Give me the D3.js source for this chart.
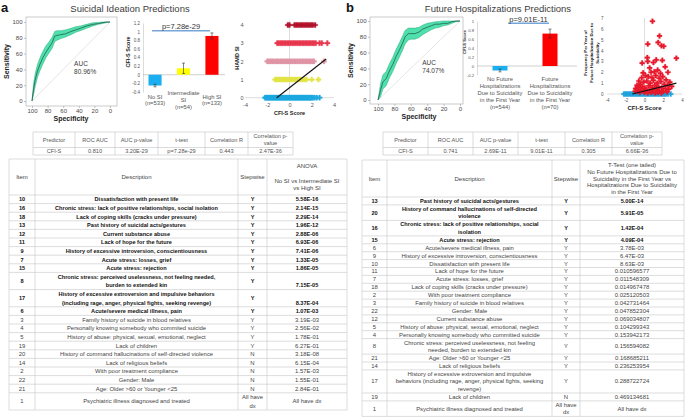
<!DOCTYPE html>
<html>
<head>
<meta charset="utf-8">
<title>CFI-S predictions</title>
<script src="https://cdn.jsdelivr.net/npm/d3@7"></script>
<style>
    body { margin: 0; background: #fff; }
    svg { display: block; }
</style>
</head>
<body>
<svg id="chart" width="685" height="420"></svg>
<script>
const TITLE_A = "Suicidal Ideation Predictions";
const TITLE_B = "Future Hospitalizations Predictions";

// ROC curves (specificity on x, sensitivity on y, with confidence band)
const ROC_TICKS = [100, 80, 60, 40, 20, 0];
const AUC_LABEL_AT = [46, 47];
const AUC_A = ["AUC", "80.96%"];
const AUC_B = ["AUC", "74.07%"];

const ROC_A_SPEC = [100, 98, 96, 93, 90, 86, 82, 78, 74, 71, 68, 63, 57, 50, 44, 38, 30, 22, 15, 10, 5, 0];
const ROC_A_SENS = [0, 15, 26, 38, 46, 55, 62, 68, 74, 82, 83, 84, 85, 88, 90, 92, 95, 97, 98, 99, 100, 100];
const ROC_A_LOW = [0, 8, 18, 30, 38, 47, 55, 61, 67, 75, 77, 79, 81, 84, 87, 89, 92, 95, 97, 98, 99, 100];
const ROC_A_HIGH = [0, 22, 34, 46, 54, 63, 70, 75, 81, 88, 89, 89, 90, 92, 94, 95, 97, 99, 99.5, 100, 100, 100];

const ROC_B_SPEC = [100, 97, 94, 90, 86, 82, 78, 74, 70, 67, 63, 60, 55, 50, 45, 40, 35, 30, 25, 20, 15, 10, 5, 0];
const ROC_B_SENS = [0, 12, 23, 27, 37, 45, 55, 63, 72, 80, 84, 84, 84, 86, 90, 92, 94, 96, 96, 97, 97, 99, 100, 100];
const ROC_B_LOW = [0, 4, 14, 18, 28, 36, 46, 54, 63, 71, 76, 77, 77, 79, 83, 86, 89, 91, 92, 94, 95, 97, 99, 100];
const ROC_B_HIGH = [0, 20, 32, 36, 46, 54, 64, 72, 81, 88, 91, 91, 91, 92, 95, 97, 98, 99, 99.5, 100, 100, 100, 100, 100];

// bar charts of mean CFI-S score
const SI_GROUPS = ["No SI\n(n=533)", "Intermediate\nSI\n(n=54)", "High SI\n(n=133)"];
const SI_MEANS = [-0.25, 0.15, 0.9];
const SI_ERRORS = [0.03, 0.12, 0.07];
const SI_TICKS = [-0.4, -0.2, 0, 0.2, 0.4, 0.6, 0.8, 1, 1.2];
const SI_P_TEXT = "p=7.28e-29";
const SI_P_LEVEL = 1.02;

const HOSP_GROUPS = [
    "No Future\nHospitalizations\nDue to Suicidality\nin the First Year\n(n=544)",
    "Future\nHospitalizations\nDue to Suicidality\nin the First Year\n(n=70)"
];
const HOSP_MEANS = [-0.1, 0.72];
const HOSP_ERRORS = [0.03, 0.1];
const HOSP_TICKS = [-0.2, 0, 0.2, 0.4, 0.6, 0.8, 1];
const HOSP_P_TEXT = "p=9.01E-11";
const HOSP_P_LEVEL = 0.95;

// scatter plots
const SCATTER_X_TICKS = [-4, -2, 0, 2, 4];
const HAMD_TICKS = [0, 1, 2, 3, 4];
const HAMD_0_CFIS = [-2.2, -2.1, -2.02, -1.93, -1.85, -1.76, -1.68, -1.6, -1.51, -1.43, -1.35, -1.26, -1.18, -1.1, -1.01, -0.93, -0.85, -0.76, -0.68, -0.6, -0.51, -0.43, -0.35, -0.26, -0.18, -0.1, -0.01, 0.07, 0.15, 0.24, 0.32, 0.4, 0.49, 0.57, 0.65, 0.74, 0.82, 0.9, 0.99, 1.07, 1.15, 1.24, 1.32, 1.4, 1.49, 1.57, 1.65, 1.74, 1.82, 1.9, 1.99, 2.1, 2.25, 2.45, 2.7];
const HAMD_1_CFIS = [-1.3, -1.15, -1.02, -0.9, -0.76, -0.62, -0.5, -0.36, -0.22, -0.06, 0.1, 0.24, 0.4, 0.55, 0.7, 0.86, 1.0, 1.18, 1.35, 1.52, 2.0, 2.6];
const HAMD_2_CFIS = [-2.0, -1.86, -1.7, -1.56, -1.42, -1.25, -1.1, -0.96, -0.8, -0.66, -0.5, -0.36, -0.2, -0.06, 0.1, 0.25, 0.4, 0.55, 0.7, 0.86, 1.0, 1.16, 1.3, 1.46, 1.6, 1.76, 1.9, 2.06, 2.2, 3.1];
const HAMD_3_CFIS = [-1.1, -0.96, -0.8, -0.66, -0.5, -0.36, -0.2, -0.06, 0.1, 0.25, 0.4, 0.55, 0.7, 0.86, 1.0, 1.16, 1.3, 1.46, 1.6, 1.76, 1.9, 2.06, 2.2, 2.36, 2.7, 2.9, 3.4];
const HAMD_4_CFIS = [-0.15, 0.0, 0.45, 0.6, 0.75, 0.9, 1.05, 1.2, 1.35, 1.5, 1.65, 1.8, 1.95, 2.1, 2.3];
const HAMD_REG_X = [-1.15, 3.3];
const HAMD_REG_Y = [0, 2.13];

const FREQ_TICKS = [0, 1, 2, 3, 4, 5, 6, 7];
const NO_HOSP_CFIS = [-2.2, -2.05, -1.9, -1.75, -1.6, -1.45, -1.3, -1.15, -1.0, -0.85, -0.7, -0.55, -0.4, -0.25, -0.1, 0.05, 0.2, 0.35, 0.5, 0.65, 0.8, 0.95, 1.1, 1.25, 1.4, 1.55, 1.7, 1.85, 2.0, 2.15, 2.3, 2.5, 2.8];
const HOSP_CFIS = [0.85, 1.6, 0.35, 1.45, 1.8, 2.05, 3.4, 0.3, 0.35, -0.25, 0.95, 1.25, 1.9, 2.2, 0.55, 1.4, -0.15, 0.7, 1.05, 1.7, 2.5,
    -0.6, -0.3, 0.1, 0.4, 0.8, 1.2, 1.55, 1.95, 2.3, 2.7, -0.8, -0.45, -0.1, 0.25, 0.6, 0.95, 1.35, 1.75, 2.1, 2.5, 2.9,
    -0.95, -0.6, -0.25, 0.05, 0.45, 0.8, 1.1, 1.5, 1.85, 2.25, 2.6, -1.0, -0.7, -0.4, -0.1, 0.2, 0.55, 0.9, 1.25, 1.6, 2.0, 2.4,
    -0.5, 0.0, 0.35, 0.75, 1.15, 1.45, 1.8];
const HOSP_FREQ = [6.7, 5.35, 4.6, 4.75, 4.45, 4.4, 3.3, 3.35, 3.0, 2.85, 2.9, 3.15, 3.1, 2.5, 2.4, 2.2, 1.95, 2.0, 2.05, 1.9, 2.0,
    1.2, 1.5, 1.7, 1.6, 1.5, 1.7, 1.45, 1.6, 1.3, 1.1, 0.8, 0.9, 1.1, 1.2, 1.0, 1.25, 1.0, 1.15, 0.9, 0.8, 0.7,
    0.5, 0.6, 0.7, 0.55, 0.75, 0.6, 0.8, 0.65, 0.55, 0.5, 0.45, 0.25, 0.3, 0.35, 0.3, 0.4, 0.3, 0.35, 0.45, 0.3, 0.25, 0.2,
    0.15, 0.15, 0.1, 0.15, 0.1, 0.15, 0.1];
const HOSP_REG_X = [-1.3, 3.4];
const HOSP_REG_Y = [0, 1.0];

// tables
const SUMMARY_HEADERS = ["Predictor", "ROC AUC", "AUC p-value", "t-test", "Correlation R", "Correlation p-\nvalue"];
const SUMMARY_A = ["CFI-S", "0.810", "3.20E-29", "p=7.28e-29", "0.443", "2.47E-36"];
const SUMMARY_B = ["CFI-S", "0.741", "2.69E-11", "9.01E-11", "0.305", "6.66E-36"];

const TABLE_A_HEADERS = ["Item", "Description", "Stepwise", "ANOVA\n\nNo SI vs Intermediate SI\nvs High SI"];
const TABLE_A_ITEMS = ["10", "16", "18", "13", "12", "11", "9", "7", "15", "8", "17", "6", "3", "4", "5", "19", "20", "14", "2", "22", "21", "1"];
const TABLE_A_DESCRIPTIONS = [
    "Dissatisfaction with  present life",
    "Chronic stress: lack of positive relationships, social isolation",
    "Lack of coping skills (cracks under pressure)",
    "Past history of suicidal acts/gestures",
    "Current substance abuse",
    "Lack of hope for the future",
    "History of excessive introversion, conscientiousness",
    "Acute stress: losses, grief",
    "Acute stress: rejection",
    "Chronic stress: perceived uselessness, not feeling needed,\nburden to extended kin",
    "History of excessive extroversion and impulsive behaviors\n(including rage, anger, physical fights, seeking revenge)",
    "Acute/severe medical illness, pain",
    "Family history of suicide in blood relatives",
    "Personally knowing somebody who commited suicide",
    "History of abuse: physical, sexual, emotional, neglect",
    "Lack of children",
    "History of command hallucinations of self-directed violence",
    "Lack of religious beliefs",
    "With poor treatment compliance",
    "Gender: Male",
    "Age: Older >60 or Younger <25",
    "Psychiatric illness diagnosed and treated"
];
const TABLE_A_STEPWISE = ["Y", "Y", "Y", "Y", "Y", "Y", "Y", "Y", "Y", "Y", "Y", "Y", "Y", "Y", "Y", "Y", "N", "N", "N", "N", "N", "All have\ndx"];
const TABLE_A_ANOVA = ["5.58E-16", "2.14E-15", "2.29E-14", "1.96E-12", "2.88E-06", "6.93E-06", "7.41E-06", "1.33E-05", "1.86E-05", "7.15E-05", "8.37E-04", "1.07E-03", "3.19E-03", "2.56E-02", "1.78E-01", "6.27E-01", "3.18E-08", "6.15E-04", "1.57E-03", "1.55E-01", "2.84E-01", "All have dx"];
const TABLE_A_BOLD = 12;

const TABLE_B_HEADERS = ["Item", "Description", "Stepwise", "T-Test (one tailed)\nNo Future Hospitalizations Due to\nSuicidality in the First Year vs\nHospitalizations Due to Suicidality\nin the First Year"];
const TABLE_B_ITEMS = ["13", "20", "16", "15", "6", "9", "10", "11", "7", "18", "2", "3", "22", "12", "5", "4", "8", "21", "14", "17", "19", "1"];
const TABLE_B_DESCRIPTIONS = [
    "Past history of suicidal acts/gestures",
    "History of command hallucinations of self-directed\nviolence",
    "Chronic stress: lack of positive relationships, social\nisolation",
    "Acute stress: rejection",
    "Acute/severe medical illness, pain",
    "History of excessive introversion, conscientiousness",
    "Dissatisfaction with  present life",
    "Lack of hope for the future",
    "Acute stress: losses, grief",
    "Lack of coping skills (cracks under pressure)",
    "With poor treatment compliance",
    "Family history of suicide in blood relatives",
    "Gender: Male",
    "Current substance abuse",
    "History of abuse: physical, sexual, emotional, neglect",
    "Personally knowing somebody who committed suicide",
    "Chronic stress: perceived uselessness, not feeling\nneeded, burden to extended kin",
    "Age: Older >60 or Younger <25",
    "Lack of religious beliefs",
    "History of excessive extroversion and impulsive\nbehaviors (including rage, anger, physical fights, seeking\nrevenge)",
    "Lack of children",
    "Psychiatric illness diagnosed and treated"
];
const TABLE_B_STEPWISE = ["Y", "Y", "Y", "Y", "Y", "Y", "Y", "Y", "Y", "Y", "Y", "Y", "Y", "Y", "Y", "Y", "Y", "Y", "Y", "Y", "N", "All have\ndx"];
const TABLE_B_TTEST = ["5.00E-14", "5.91E-05", "1.42E-04", "4.09E-04", "3.78E-03", "6.47E-03", "8.63E-03", "0.010596577", "0.011548309", "0.014967478", "0.025120503", "0.042731464", "0.047852304", "0.069034807", "0.104299343", "0.153942173", "0.156594082", "0.168685211", "0.236253954", "0.288722724", "0.469134681", "All have dx"];
const TABLE_B_BOLD = 4;

const FONT = "'Liberation Sans', Arial, Helvetica, sans-serif";
const svg = d3.select("#chart").attr("font-family", FONT);

const addText = (parent, x, y, str, size, opts = {}) => {
    return parent.append("text")
        .attr("x", x)
        .attr("y", y)
        .attr("font-size", size)
        .attr("fill", opts.fill || "#333")
        .attr("font-weight", opts.bold ? "bold" : null)
        .attr("text-anchor", opts.anchor || "middle")
        .attr("dominant-baseline", "central")
        .attr("transform", opts.rotate ? `rotate(-90, ${x}, ${y})` : null)
        .text(str);
};

const addLines = (parent, x, yCenter, lines, size, step, opts = {}) => {
    const first = yCenter - (lines.length - 1) * step / 2;
    lines.forEach((line, i) => addText(parent, x, first + i * step, line, size, opts));
};

const styleAxis = (axisG, size, fill, keepDomain = false) => {
    axisG.attr("font-family", FONT).attr("font-size", size);
    if (!keepDomain)
        axisG.select(".domain").remove();
    axisG.selectAll(".tick line").attr("stroke", "#8a8a8a").attr("stroke-width", 0.5);
    axisG.selectAll(".tick text").attr("fill", fill);
};

const drawRoc = (spec, sens, low, high, aucLines, f) => {
    const g = svg.append("g");
    const x = d3.scaleLinear().domain([100, 0]).range([f.x100, f.x0]);
    const y = d3.scaleLinear().domain([0, 100]).range([f.y0, f.y100]);
    g.append("rect")
        .attr("x", f.left)
        .attr("y", f.top)
        .attr("width", f.right - f.left)
        .attr("height", f.bottom - f.top)
        .attr("fill", "none")
        .attr("stroke", "#a8a8a8")
        .attr("stroke-width", 0.6);
    g.append("line")
        .attr("x1", x(100)).attr("y1", y(0))
        .attr("x2", x(0)).attr("y2", y(100))
        .attr("stroke", "#d3d3d3")
        .attr("stroke-width", 0.6);
    g.append("path")
        .datum(spec)
        .attr("d", d3.area().x((d) => x(d)).y0((d, i) => y(low[i])).y1((d, i) => y(high[i])))
        .attr("fill", "#4fe0ad")
        .attr("stroke", "#2aa97d")
        .attr("stroke-width", 0.5);
    g.append("path")
        .datum(spec)
        .attr("d", d3.line().x((d) => x(d)).y((d, i) => y(sens[i])))
        .attr("fill", "none")
        .attr("stroke", "#1d4f3e")
        .attr("stroke-width", 0.7);
    const xAxis = g.append("g")
        .attr("transform", `translate(0, ${f.bottom})`)
        .call(d3.axisBottom(x).tickValues(ROC_TICKS).tickSize(2).tickPadding(1));
    const yAxis = g.append("g")
        .attr("transform", `translate(${f.left}, 0)`)
        .call(d3.axisLeft(y).tickValues(ROC_TICKS).tickSize(2).tickPadding(1.5));
    styleAxis(xAxis, 6, "#4a4a4a");
    styleAxis(yAxis, 6, "#4a4a4a");
    addText(g, (f.x100 + f.x0) / 2, f.bottom + 12, "Specificity", 7, { bold: true, fill: "#222" });
    addText(g, f.left - 20, (f.y0 + f.y100) / 2, "Sensitivity", 7, { bold: true, fill: "#222", rotate: true });
    aucLines.forEach((t, i) => addText(g, x(AUC_LABEL_AT[0]), y(AUC_LABEL_AT[1]) + i * 8, t, 6.5, { anchor: "start", fill: "#3a3a3a" }));
};

const drawBars = (groups, means, errors, colors, ticks, pText, pLevel, f) => {
    const g = svg.append("g");
    const x = d3.scaleBand().domain(d3.range(groups.length)).range(f.band).paddingInner(f.padInner).paddingOuter(0);
    const y = d3.scaleLinear().domain(f.yDomain).range(f.yRange);
    const bw = x.bandwidth();
    const axis = g.append("g")
        .attr("transform", `translate(${f.axisX}, 0)`)
        .call(d3.axisLeft(y).tickValues(ticks).tickSize(0).tickSizeOuter(0).tickPadding(3).tickFormat((d) => String(d)));
    styleAxis(axis, f.tickSize, "#555", true);
    axis.select(".domain").attr("stroke", "#c4c4c4").attr("stroke-width", 0.6);
    g.append("line")
        .attr("x1", f.axisX).attr("x2", f.lineEnd)
        .attr("y1", y(0)).attr("y2", y(0))
        .attr("stroke", "#b0b0b0")
        .attr("stroke-width", 0.6);
    g.selectAll("rect.bar")
        .data(means)
        .enter()
        .append("rect")
        .attr("class", "bar")
        .attr("x", (d, i) => x(i))
        .attr("width", bw)
        .attr("y", (d) => y(Math.max(0, d)))
        .attr("height", (d) => Math.abs(y(d) - y(0)))
        .attr("fill", (d, i) => colors[i]);
    const err = g.selectAll("g.err")
        .data(means)
        .enter()
        .append("g")
        .attr("class", "err")
        .attr("stroke", "#333")
        .attr("stroke-width", 0.6);
    err.append("line")
        .attr("x1", (d, i) => x(i) + bw / 2).attr("x2", (d, i) => x(i) + bw / 2)
        .attr("y1", (d, i) => y(d - errors[i])).attr("y2", (d, i) => y(d + errors[i]));
    err.append("line")
        .attr("x1", (d, i) => x(i) + bw / 2 - 1.5).attr("x2", (d, i) => x(i) + bw / 2 + 1.5)
        .attr("y1", (d, i) => y(d + errors[i])).attr("y2", (d, i) => y(d + errors[i]));
    err.append("line")
        .attr("x1", (d, i) => x(i) + bw / 2 - 1.5).attr("x2", (d, i) => x(i) + bw / 2 + 1.5)
        .attr("y1", (d, i) => y(d - errors[i])).attr("y2", (d, i) => y(d - errors[i]));
    groups.forEach((label, i) => addLines(g, x(i) + bw / 2, f.labelY, label.split("\n"), f.labelSize, f.labelStep, { fill: "#555" }));
    const px0 = x(0) + bw / 2 + f.pInset[0];
    const px1 = x(groups.length - 1) + bw / 2 + f.pInset[1];
    g.append("line")
        .attr("x1", px0).attr("x2", px1)
        .attr("y1", y(pLevel)).attr("y2", y(pLevel))
        .attr("stroke", "#76a5d8")
        .attr("stroke-width", 1.6);
    addText(g, (px0 + px1) / 2, y(pLevel) - f.pGap, pText, f.pSize, { fill: "#333" });
    addText(g, f.titleX, f.titleY, "CFI-S Score", f.titleSize, { bold: true, fill: "#222", rotate: true });
};

const drawScatter = (layers, regX, regY, yTicks, f) => {
    const g = svg.append("g");
    const x = d3.scaleLinear().domain([-4, 4]).range([f.x0, f.x1]);
    const y = d3.scaleLinear().domain([0, d3.max(yTicks)]).range([f.y0, f.y1]);
    g.append("line")
        .attr("x1", x(-4)).attr("x2", x(4))
        .attr("y1", y(0)).attr("y2", y(0))
        .attr("stroke", "#c8c8c8").attr("stroke-width", 0.6);
    g.append("line")
        .attr("x1", x(0)).attr("x2", x(0))
        .attr("y1", y(0)).attr("y2", f.yTop)
        .attr("stroke", "#c8c8c8").attr("stroke-width", 0.6);
    const xAxis = g.append("g")
        .attr("transform", `translate(0, ${f.xLabelY})`)
        .call(d3.axisBottom(x).tickValues(SCATTER_X_TICKS).tickSize(0).tickPadding(0).tickFormat((d) => String(d)));
    xAxis.selectAll("text").attr("y", 0).attr("dy", "0.35em");
    const yAxis = g.append("g")
        .attr("transform", `translate(${f.yLabelX}, 0)`)
        .call(d3.axisLeft(y).tickValues(yTicks).tickSize(0).tickPadding(0).tickFormat((d) => String(d)));
    styleAxis(xAxis, f.tickSize, "#555");
    styleAxis(yAxis, f.tickSize, "#555");
    layers.forEach((layer) => {
        g.append("g")
            .selectAll("path")
            .data(layer.xs)
            .enter()
            .append("path")
            .attr("d", d3.symbol(d3.symbolCross, f.markerSize))
            .attr("transform", (d, i) => `translate(${x(d)}, ${y(Array.isArray(layer.ys) ? layer.ys[i] : layer.ys)})`)
            .attr("fill", layer.color)
            .attr("stroke", layer.color)
            .attr("stroke-width", 0.3);
    });
    g.append("path")
        .datum(regX)
        .attr("d", d3.line().x((d) => x(d)).y((d, i) => y(regY[i])))
        .attr("stroke", "#111")
        .attr("stroke-width", 1.1);
    addText(g, x(0), f.titleY, "CFI-S Score", f.titleSize, { bold: true, fill: "#222" });
    f.yTitle.forEach((t, i) => addText(g, f.yTitleX + i * f.yTitleStep, f.yTitleY, t, f.yTitleSize, { bold: true, fill: "#222", rotate: true }));
};

const drawSummary = (cols, headers, values) => {
    const g = svg.append("g");
    const top = 132, mid = 147.5, bottom = 155;
    const last = cols[cols.length - 1];
    [top, mid, bottom].forEach((yy) => g.append("line")
        .attr("x1", cols[0]).attr("x2", last).attr("y1", yy).attr("y2", yy)
        .attr("stroke", "#c3c3c3").attr("stroke-width", 0.6));
    cols.forEach((xx) => g.append("line")
        .attr("x1", xx).attr("x2", xx).attr("y1", top).attr("y2", bottom)
        .attr("stroke", "#c3c3c3").attr("stroke-width", 0.6));
    headers.forEach((h, i) => addLines(g, (cols[i] + cols[i + 1]) / 2, (top + mid) / 2, h.split("\n"), 5.6, 7, { fill: "#555" }));
    values.forEach((v, i) => addText(g, (cols[i] + cols[i + 1]) / 2, (mid + bottom) / 2, v, 5.6, { fill: "#555" }));
};

const drawItemTable = (f, headers, items, descriptions, stepwise, values, boldCount) => {
    const g = svg.append("g");
    const cols = f.cols;
    let top = f.headerBottom;
    const rows = items.map((item, i) => {
        const desc = descriptions[i].split("\n");
        const step = stepwise[i].split("\n");
        const h = Math.max(desc.length, step.length) * f.lineStep + f.rowPad;
        const row = { item, desc, step, value: values[i], bold: i < boldCount, top, h };
        top += h;
        return row;
    });
    const bottom = top;
    const rule = (x1, y1, x2, y2) => g.append("line")
        .attr("x1", x1).attr("y1", y1).attr("x2", x2).attr("y2", y2)
        .attr("stroke", "#c6c6c6").attr("stroke-width", 0.6);
    rule(cols[0], f.headerTop, cols[4], f.headerTop);
    rule(cols[0], f.headerBottom, cols[4], f.headerBottom);
    rows.forEach((r) => rule(cols[0], r.top + r.h, cols[4], r.top + r.h));
    cols.forEach((xx) => rule(xx, f.headerTop, xx, bottom));
    const centers = cols.slice(0, -1).map((c, i) => (c + cols[i + 1]) / 2);
    headers.forEach((h, i) => addLines(g, centers[i], (f.headerTop + f.headerBottom) / 2, h.split("\n"), f.headerSize, f.headerStep, { fill: "#444" }));
    rows.forEach((r) => {
        const mid = r.top + r.h / 2;
        const size = r.bold ? f.boldSize : f.textSize;
        const opts = { bold: r.bold, fill: r.bold ? "#111" : "#444" };
        addText(g, centers[0], mid, r.item, size, opts);
        addLines(g, centers[1], mid, r.desc, size, f.lineStep, opts);
        addLines(g, centers[2], mid, r.step, size, f.lineStep, opts);
        const vy = f.valueAtBottom && r.desc.length > 1 ? mid + (r.desc.length - 1) * f.lineStep / 2 : mid;
        addText(g, centers[3], vy, r.value, size, opts);
    });
};

// page
svg.append("rect").attr("width", 685).attr("height", 420).attr("fill", "#fff");
addText(svg, 1, 7.5, "a", 13, { bold: true, fill: "#111", anchor: "start" });
addText(svg, 346, 7.5, "b", 13, { bold: true, fill: "#111", anchor: "start" });
addText(svg, 130, 8, TITLE_A, 9.5, { fill: "#3c3c3c" });
addText(svg, 498, 8, TITLE_B, 9.5, { fill: "#3c3c3c" });

drawRoc(ROC_A_SPEC, ROC_A_SENS, ROC_A_LOW, ROC_A_HIGH, AUC_A,
    { left: 26, right: 117, top: 17, bottom: 106, x100: 32, x0: 110, y0: 101, y100: 22 });
drawRoc(ROC_B_SPEC, ROC_B_SENS, ROC_B_LOW, ROC_B_HIGH, AUC_B,
    { left: 370, right: 463, top: 17, bottom: 104, x100: 378, x0: 460, y0: 100, y100: 21 });

drawBars(SI_GROUPS, SI_MEANS, SI_ERRORS, ["#1aaff0", "#ffff00", "#ff0000"], SI_TICKS, SI_P_TEXT, SI_P_LEVEL,
    { axisX: 143, lineEnd: 225, band: [148.5, 218.5], padInner: 0.54, yDomain: [-0.4, 1.2], yRange: [92, 23],
      tickSize: 4.5, labelY: 100, labelStep: 6.8, labelSize: 5.8, pInset: [-3, -2], pGap: 3.8, pSize: 7.5,
      titleX: 128, titleY: 52, titleSize: 5.5 });
drawBars(HOSP_GROUPS, HOSP_MEANS, HOSP_ERRORS, ["#1aaff0", "#ff0000"], HOSP_TICKS, HOSP_P_TEXT, HOSP_P_LEVEL,
    { axisX: 477, lineEnd: 577, band: [492.5, 557.5], padInner: 0.7, yDomain: [-0.2, 1], yRange: [75, 21],
      tickSize: 4.2, labelY: 93, labelStep: 6.85, labelSize: 5.8, pInset: [8, -1], pGap: 4.2, pSize: 7.5,
      titleX: 464, titleY: 42, titleSize: 4.2 });

drawScatter([
        { xs: HAMD_0_CFIS, ys: 0, color: "#1fa9e1" },
        { xs: HAMD_1_CFIS, ys: 1, color: "#e3e547" },
        { xs: HAMD_2_CFIS, ys: 2, color: "#e095a6" },
        { xs: HAMD_3_CFIS, ys: 3, color: "#e8384f" },
        { xs: HAMD_4_CFIS, ys: 4, color: "#b3142c" }
    ], HAMD_REG_X, HAMD_REG_Y, HAMD_TICKS,
    { x0: 245, x1: 334, y0: 97.7, y1: 25, yTop: 20, xLabelY: 105, yLabelX: 243.5, tickSize: 5.5, markerSize: 15,
      titleY: 113, titleSize: 5.5, yTitle: ["HAMD SI"], yTitleX: 237, yTitleY: 58, yTitleStep: 0, yTitleSize: 5.5 });
drawScatter([
        { xs: NO_HOSP_CFIS, ys: 0, color: "#21a3dc" },
        { xs: HOSP_CFIS, ys: HOSP_FREQ, color: "#e8192c" }
    ], HOSP_REG_X, HOSP_REG_Y, FREQ_TICKS,
    { x0: 607, x1: 682, y0: 94, y1: 18, yTop: 18, xLabelY: 100.5, yLabelX: 603.5, tickSize: 4.5, markerSize: 14,
      titleY: 108, titleSize: 6, yTitle: ["Frequency Per Year of", "Future Hospitalization Due to", "Suicidality"],
      yTitleX: 585, yTitleY: 53, yTitleStep: 6, yTitleSize: 4.3 });

drawSummary([33, 75, 115, 158, 205, 248, 293], SUMMARY_HEADERS, SUMMARY_A);
drawSummary([383, 428, 473, 518, 565, 612, 662], SUMMARY_HEADERS, SUMMARY_B);

drawItemTable({ cols: [9, 35, 238, 267, 347], headerTop: 159, headerBottom: 195, lineStep: 8.6, rowPad: 0,
        headerSize: 6, headerStep: 7.5, textSize: 5.9, boldSize: 5.6, valueAtBottom: true },
    TABLE_A_HEADERS, TABLE_A_ITEMS, TABLE_A_DESCRIPTIONS, TABLE_A_STEPWISE, TABLE_A_ANOVA, TABLE_A_BOLD);
drawItemTable({ cols: [362, 387, 552, 580, 684], headerTop: 160, headerBottom: 197, lineStep: 7.6, rowPad: 0.3,
        headerSize: 6, headerStep: 6.8, textSize: 5.9, boldSize: 5.6, valueAtBottom: false },
    TABLE_B_HEADERS, TABLE_B_ITEMS, TABLE_B_DESCRIPTIONS, TABLE_B_STEPWISE, TABLE_B_TTEST, TABLE_B_BOLD);
</script>
</body>
</html>
